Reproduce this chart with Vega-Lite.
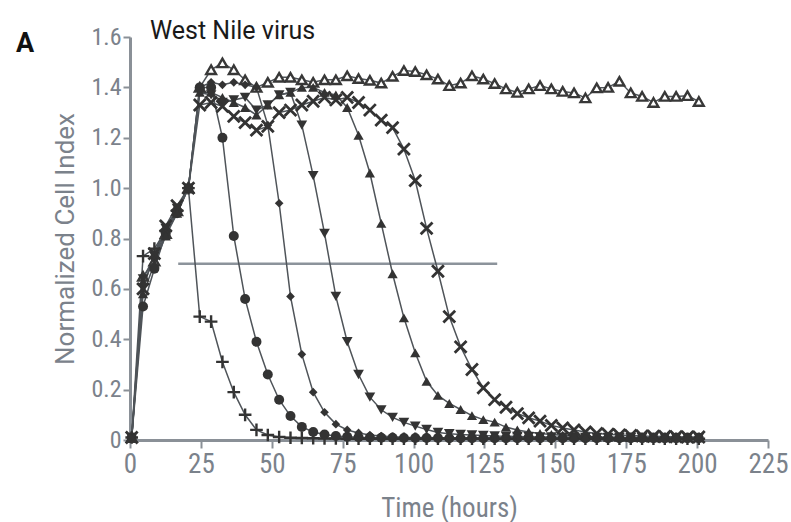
{
  "$schema": "https://vega.github.io/schema/vega-lite/v6.json",
  "width": 638,
  "height": 403,
  "autosize": {"type": "none"},
  "padding": {"left": 130, "top": 37, "right": 23, "bottom": 82},
  "background": "white",
  "title": {"text": "West Nile virus", "anchor": "start", "frame": "group", "dx": 20, "offset": -19, "font": "Roboto", "fontSize": 25, "fontWeight": "normal", "color": "#1a1a1a"},
  "config": {"view": {"stroke": null}},
  "datasets": {
    "cells": [
      {"t": 0.6, "plus": 0.01, "circ": 0.01, "diam": 0.01, "tdn": 0.01, "tup": 0.01, "xx": 0.01, "ctrl": 0.01},
      {"t": 4.6, "plus": 0.73, "circ": 0.53, "diam": 0.62, "tdn": 0.64, "tup": 0.58, "xx": 0.60, "ctrl": 0.65},
      {"t": 8.6, "plus": 0.76, "circ": 0.68, "diam": 0.72, "tdn": 0.73, "tup": 0.70, "xx": 0.74, "ctrl": 0.71},
      {"t": 12.6, "plus": 0.83, "circ": 0.82, "diam": 0.83, "tdn": 0.84, "tup": 0.81, "xx": 0.85, "ctrl": 0.82},
      {"t": 16.6, "plus": 0.91, "circ": 0.90, "diam": 0.92, "tdn": 0.92, "tup": 0.90, "xx": 0.93, "ctrl": 0.91},
      {"t": 20.6, "plus": 1.0, "circ": 1.0, "diam": 1.0, "tdn": 1.0, "tup": 1.0, "xx": 1.0, "ctrl": 1.0},
      {"t": 24.6, "plus": 0.49, "circ": 1.40, "diam": 1.40, "tdn": 1.38, "tup": 1.38, "xx": 1.33, "ctrl": 1.40},
      {"t": 28.6, "plus": 0.47, "circ": 1.40, "diam": 1.42, "tdn": 1.37, "tup": 1.38, "xx": 1.34, "ctrl": 1.47},
      {"t": 32.6, "plus": 0.31, "circ": 1.20, "diam": 1.41, "tdn": 1.34, "tup": 1.36, "xx": 1.325, "ctrl": 1.497},
      {"t": 36.6, "plus": 0.19, "circ": 0.81, "diam": 1.42, "tdn": 1.35, "tup": 1.34, "xx": 1.285, "ctrl": 1.47},
      {"t": 40.6, "plus": 0.10, "circ": 0.56, "diam": 1.41, "tdn": 1.36, "tup": 1.32, "xx": 1.26, "ctrl": 1.43},
      {"t": 44.6, "plus": 0.04, "circ": 0.39, "diam": 1.40, "tdn": 1.31, "tup": 1.29, "xx": 1.23, "ctrl": 1.40},
      {"t": 48.6, "plus": 0.02, "circ": 0.26, "diam": 1.25, "tdn": 1.33, "tup": 1.33, "xx": 1.245, "ctrl": 1.42},
      {"t": 52.6, "plus": 0.012, "circ": 0.16, "diam": 0.94, "tdn": 1.37, "tup": 1.37, "xx": 1.30, "ctrl": 1.44},
      {"t": 56.6, "plus": 0.009, "circ": 0.095, "diam": 0.57, "tdn": 1.38, "tup": 1.38, "xx": 1.31, "ctrl": 1.44},
      {"t": 60.6, "plus": 0.008, "circ": 0.052, "diam": 0.34, "tdn": 1.25, "tup": 1.40, "xx": 1.33, "ctrl": 1.43},
      {"t": 64.6, "plus": 0.007, "circ": 0.032, "diam": 0.19, "tdn": 1.05, "tup": 1.40, "xx": 1.345, "ctrl": 1.42},
      {"t": 68.6, "plus": 0.006, "circ": 0.022, "diam": 0.11, "tdn": 0.82, "tup": 1.38, "xx": 1.36, "ctrl": 1.43},
      {"t": 72.6, "plus": 0.006, "circ": 0.016, "diam": 0.063, "tdn": 0.57, "tup": 1.37, "xx": 1.35, "ctrl": 1.43},
      {"t": 76.6, "plus": 0.005, "circ": 0.013, "diam": 0.04, "tdn": 0.39, "tup": 1.32, "xx": 1.36, "ctrl": 1.446},
      {"t": 80.6, "plus": 0.005, "circ": 0.011, "diam": 0.028, "tdn": 0.26, "tup": 1.21, "xx": 1.34, "ctrl": 1.435},
      {"t": 84.6, "plus": 0.005, "circ": 0.010, "diam": 0.020, "tdn": 0.17, "tup": 1.06, "xx": 1.31, "ctrl": 1.428},
      {"t": 88.6, "plus": 0.005, "circ": 0.009, "diam": 0.016, "tdn": 0.12, "tup": 0.86, "xx": 1.27, "ctrl": 1.417},
      {"t": 92.6, "plus": 0.005, "circ": 0.009, "diam": 0.013, "tdn": 0.09, "tup": 0.66, "xx": 1.24, "ctrl": 1.444},
      {"t": 96.6, "plus": 0.005, "circ": 0.008, "diam": 0.011, "tdn": 0.07, "tup": 0.485, "xx": 1.155, "ctrl": 1.467},
      {"t": 100.6, "plus": 0.005, "circ": 0.008, "diam": 0.010, "tdn": 0.055, "tup": 0.346, "xx": 1.03, "ctrl": 1.463},
      {"t": 104.6, "plus": 0.005, "circ": 0.008, "diam": 0.010, "tdn": 0.042, "tup": 0.233, "xx": 0.84, "ctrl": 1.45},
      {"t": 108.6, "plus": 0.005, "circ": 0.008, "diam": 0.009, "tdn": 0.030, "tup": 0.177, "xx": 0.67, "ctrl": 1.433},
      {"t": 112.6, "plus": 0.005, "circ": 0.007, "diam": 0.009, "tdn": 0.025, "tup": 0.145, "xx": 0.49, "ctrl": 1.407},
      {"t": 116.6, "plus": 0.005, "circ": 0.007, "diam": 0.009, "tdn": 0.022, "tup": 0.121, "xx": 0.37, "ctrl": 1.417},
      {"t": 120.6, "plus": 0.005, "circ": 0.007, "diam": 0.009, "tdn": 0.020, "tup": 0.097, "xx": 0.28, "ctrl": 1.446},
      {"t": 124.6, "plus": 0.005, "circ": 0.007, "diam": 0.008, "tdn": 0.018, "tup": 0.081, "xx": 0.207, "ctrl": 1.433},
      {"t": 128.6, "plus": 0.005, "circ": 0.007, "diam": 0.008, "tdn": 0.016, "tup": 0.071, "xx": 0.16, "ctrl": 1.415},
      {"t": 132.6, "plus": 0.005, "circ": 0.007, "diam": 0.008, "tdn": 0.015, "tup": 0.051, "xx": 0.13, "ctrl": 1.394},
      {"t": 136.6, "plus": 0.005, "circ": 0.007, "diam": 0.008, "tdn": 0.014, "tup": 0.040, "xx": 0.105, "ctrl": 1.38},
      {"t": 140.6, "plus": 0.005, "circ": 0.007, "diam": 0.008, "tdn": 0.013, "tup": 0.032, "xx": 0.088, "ctrl": 1.394},
      {"t": 144.6, "plus": 0.005, "circ": 0.007, "diam": 0.008, "tdn": 0.012, "tup": 0.026, "xx": 0.075, "ctrl": 1.407},
      {"t": 148.6, "plus": 0.005, "circ": 0.007, "diam": 0.008, "tdn": 0.012, "tup": 0.022, "xx": 0.058, "ctrl": 1.394},
      {"t": 152.6, "plus": 0.005, "circ": 0.007, "diam": 0.008, "tdn": 0.011, "tup": 0.019, "xx": 0.048, "ctrl": 1.384},
      {"t": 156.6, "plus": 0.005, "circ": 0.007, "diam": 0.008, "tdn": 0.011, "tup": 0.016, "xx": 0.040, "ctrl": 1.378},
      {"t": 160.6, "plus": 0.005, "circ": 0.007, "diam": 0.008, "tdn": 0.010, "tup": 0.014, "xx": 0.032, "ctrl": 1.358},
      {"t": 164.6, "plus": 0.005, "circ": 0.007, "diam": 0.008, "tdn": 0.010, "tup": 0.012, "xx": 0.026, "ctrl": 1.398},
      {"t": 168.6, "plus": 0.005, "circ": 0.007, "diam": 0.008, "tdn": 0.010, "tup": 0.011, "xx": 0.023, "ctrl": 1.40},
      {"t": 172.6, "plus": 0.005, "circ": 0.007, "diam": 0.008, "tdn": 0.010, "tup": 0.011, "xx": 0.020, "ctrl": 1.424},
      {"t": 176.6, "plus": 0.005, "circ": 0.007, "diam": 0.008, "tdn": 0.009, "tup": 0.010, "xx": 0.018, "ctrl": 1.378},
      {"t": 180.6, "plus": 0.005, "circ": 0.007, "diam": 0.008, "tdn": 0.009, "tup": 0.010, "xx": 0.016, "ctrl": 1.364},
      {"t": 184.6, "plus": 0.005, "circ": 0.007, "diam": 0.008, "tdn": 0.009, "tup": 0.009, "xx": 0.015, "ctrl": 1.34},
      {"t": 188.6, "plus": 0.005, "circ": 0.007, "diam": 0.008, "tdn": 0.009, "tup": 0.009, "xx": 0.014, "ctrl": 1.364},
      {"t": 192.6, "plus": 0.005, "circ": 0.007, "diam": 0.008, "tdn": 0.009, "tup": 0.009, "xx": 0.013, "ctrl": 1.364},
      {"t": 196.6, "plus": 0.005, "circ": 0.007, "diam": 0.008, "tdn": 0.009, "tup": 0.009, "xx": 0.012, "ctrl": 1.367},
      {"t": 200.6, "plus": 0.005, "circ": 0.007, "diam": 0.008, "tdn": 0.009, "tup": 0.009, "xx": 0.012, "ctrl": 1.344}
    ],
    "threshold": [{"start": 17, "end": 129.5, "level": 0.7}],
    "panel": [{"label": "A", "tx": -37, "ty": 1.54}]
  },
  "data": {"name": "cells"},
  "transform": [{"fold": ["plus", "circ", "diam", "tdn", "tup", "xx", "ctrl"], "as": ["series", "ci"]}],
  "encoding": {
    "x": {"field": "t", "type": "quantitative", "scale": {"domain": [0, 225], "nice": false, "zero": false},
      "axis": {"title": "Time (hours)", "values": [0, 25, 50, 75, 100, 125, 150, 175, 200, 225], "grid": false, "labelFlush": false,
        "labelFont": "Roboto Condensed, Liberation Sans Narrow, DejaVu Sans Condensed, Roboto", "labelFontSize": 27, "labelColor": "#7b828b",
        "domainColor": "#8a9097", "domainWidth": 3, "tickColor": "#8a9097", "tickWidth": 2, "tickSize": 8, "labelPadding": 3,
        "titleFont": "Roboto Condensed, Liberation Sans Narrow, DejaVu Sans Condensed, Roboto", "titleFontSize": 27, "titleFontWeight": "normal", "titleColor": "#7b828b", "titlePadding": 18}},
    "y": {"field": "ci", "type": "quantitative", "scale": {"domain": [0, 1.6], "nice": false},
      "axis": {"title": "Normalized Cell Index", "values": [0, 0.2, 0.4, 0.6, 0.8, 1.0, 1.2, 1.4, 1.6], "grid": false, "labelFlush": false,
        "labelExpr": "datum.value == 0 ? '0' : format(datum.value, '.1f')",
        "labelFont": "Roboto Condensed, Liberation Sans Narrow, DejaVu Sans Condensed, Roboto", "labelFontSize": 24, "labelColor": "#7b828b",
        "domainColor": "#8a9097", "domainWidth": 3, "tickColor": "#8a9097", "tickWidth": 2, "tickSize": 7, "labelPadding": 2,
        "titleFont": "Roboto", "titleFontSize": 26, "titleFontWeight": "normal", "titleColor": "#7b828b", "titlePadding": 12}}
  },
  "layer": [
    {
      "data": {"name": "threshold"},
      "mark": {"type": "rule", "color": "#8c939b", "strokeWidth": 2.5},
      "encoding": {
        "x": {"field": "start", "type": "quantitative"},
        "x2": {"field": "end"},
        "y": {"field": "level", "type": "quantitative"}
      }
    },
    {
      "mark": {"type": "line", "color": "#4f5459", "strokeWidth": 1.5},
      "encoding": {"detail": {"field": "series"}, "order": {"field": "t"}}
    },
    {
      "transform": [{"filter": "datum.series == 'ctrl'"}],
      "mark": {"type": "point", "shape": "triangle-up", "size": 95, "filled": true, "fill": "white", "stroke": "#383838", "strokeWidth": 2.4, "opacity": 1}
    },
    {
      "transform": [{"filter": "datum.series == 'plus'"}],
      "mark": {"type": "point", "shape": "M-1,0L1,0M0,-1L0,1", "size": 160, "filled": false, "color": "#333", "strokeWidth": 2.4, "opacity": 1}
    },
    {
      "transform": [{"filter": "datum.series == 'circ'"}],
      "mark": {"type": "point", "shape": "circle", "size": 100, "filled": true, "color": "#333", "opacity": 1}
    },
    {
      "transform": [{"filter": "datum.series == 'diam'"}],
      "mark": {"type": "point", "shape": "diamond", "size": 75, "filled": true, "color": "#333", "opacity": 1}
    },
    {
      "transform": [{"filter": "datum.series == 'tdn'"}],
      "mark": {"type": "point", "shape": "triangle-down", "size": 115, "filled": true, "color": "#333", "opacity": 1}
    },
    {
      "transform": [{"filter": "datum.series == 'tup'"}],
      "mark": {"type": "point", "shape": "triangle-up", "size": 105, "filled": true, "color": "#333", "opacity": 1}
    },
    {
      "transform": [{"filter": "datum.series == 'xx'"}],
      "mark": {"type": "point", "shape": "M-1,-1L1,1M1,-1L-1,1", "size": 140, "filled": false, "color": "#333", "strokeWidth": 2.8, "opacity": 1}
    },
    {
      "data": {"name": "panel"},
      "mark": {"type": "text", "font": "Roboto", "fontSize": 27, "fontWeight": "bold", "color": "#111", "align": "center", "baseline": "alphabetic"},
      "encoding": {
        "x": {"field": "tx", "type": "quantitative"},
        "y": {"field": "ty", "type": "quantitative"},
        "text": {"field": "label"}
      }
    }
  ]
}
